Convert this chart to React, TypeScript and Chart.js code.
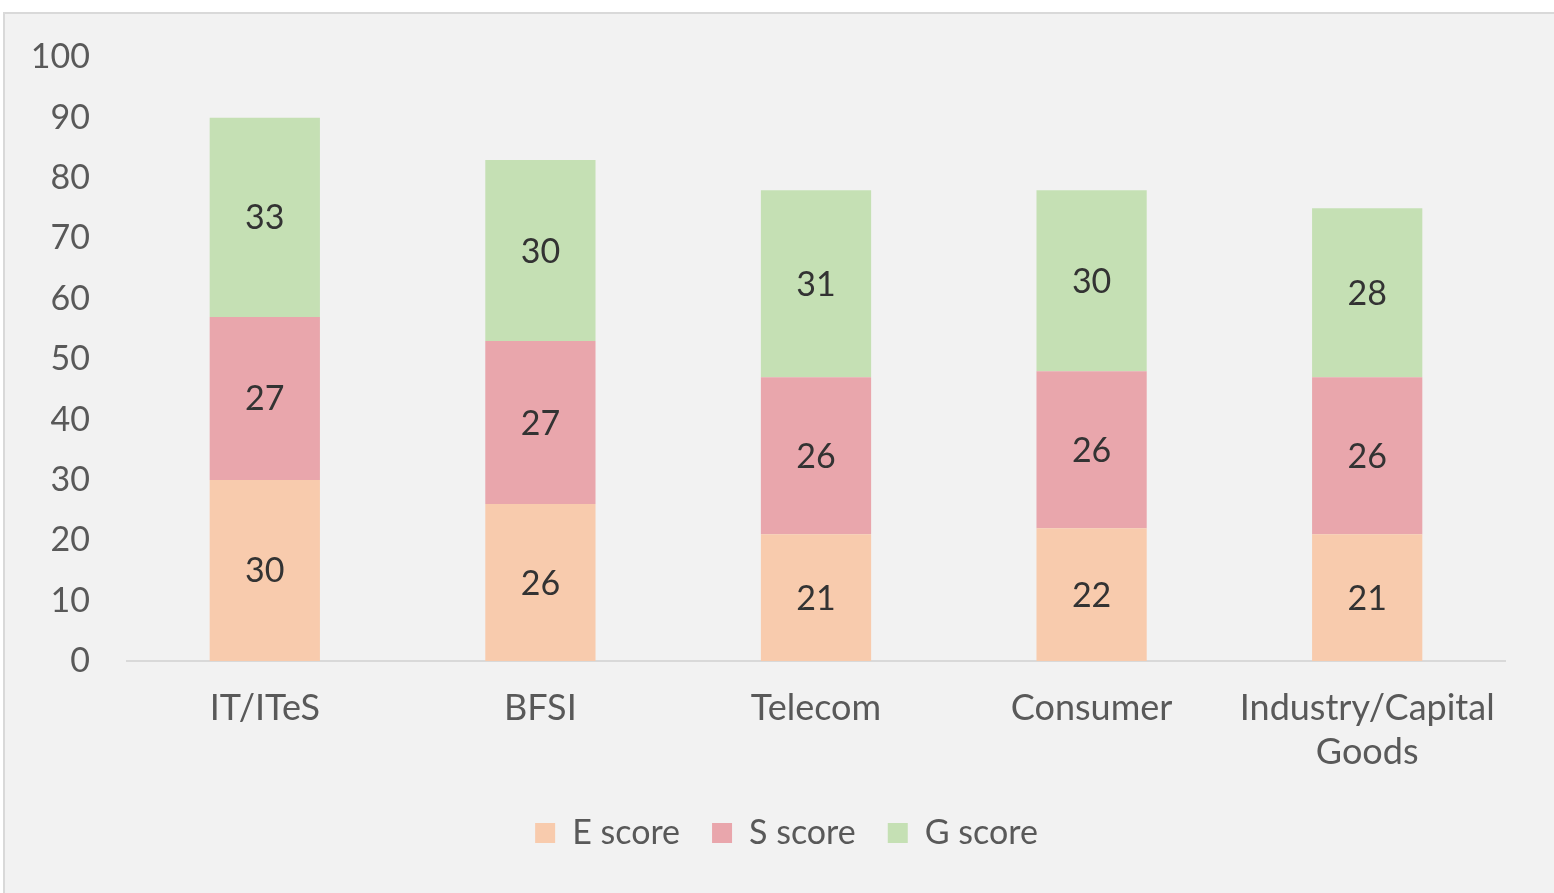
import React, { useEffect, useRef } from 'react';
import { Chart, registerables } from 'chart.js';

Chart.register(...registerables);

const categories = ['IT/ITeS', 'BFSI', 'Telecom', 'Consumer', 'Industry/Capital Goods'];
const eScores = [30, 26, 21, 22, 21];
const sScores = [27, 27, 26, 26, 26];
const gScores = [33, 30, 31, 30, 28];
const seriesNames = ['E score', 'S score', 'G score'];
const yMin = 0;
const yMax = 100;
const yStep = 10;

const FONT = 'Lato';

const dataLabelPlugin = {
  id: 'stackLabels',
  afterDatasetsDraw(chart: any) {
    const ctx = chart.ctx;
    ctx.save();
    ctx.font = `34px ${FONT}`;
    ctx.fillStyle = '#333333';
    ctx.textAlign = 'center';
    ctx.textBaseline = 'middle';
    chart.data.datasets.forEach((ds: any, i: number) => {
      const meta = chart.getDatasetMeta(i);
      meta.data.forEach((el: any, j: number) => {
        const p = el.getProps(['x', 'y', 'base'], true);
        ctx.fillText(String(ds.data[j]), p.x, (p.y + p.base) / 2 + 1);
      });
    });
    ctx.restore();
  },
};

const legendShiftPlugin = {
  id: 'legendShift',
  afterLayout(chart: any) {
    if (chart.legend) {
      chart.legend.left = 68;
    }
  },
};

export default function App() {
  const ref = useRef<HTMLCanvasElement>(null);
  useEffect(() => {
    if (!ref.current) return;
    const chart = new Chart(ref.current, {
      type: 'bar',
      data: {
        labels: categories.map((c) => c.split(' ')),
        datasets: [
          { label: seriesNames[0], data: eScores, backgroundColor: '#f8cbad' },
          { label: seriesNames[1], data: sScores, backgroundColor: '#e9a6ac' },
          { label: seriesNames[2], data: gScores, backgroundColor: '#c5e0b4' },
        ],
      },
      options: {
        responsive: false,
        animation: false,
        devicePixelRatio: 1,
        layout: { padding: { left: 0, right: 49, top: 53, bottom: 33 } },
        datasets: { bar: { categoryPercentage: 1, barPercentage: 0.4 } },
        plugins: {
          tooltip: { enabled: false },
          legend: {
            position: 'bottom',
            labels: {
              boxWidth: 20,
              boxHeight: 20,
              padding: 32,
              color: '#595959',
              font: { family: FONT, size: 34 },
            },
          },
        },
        scales: {
          x: {
            stacked: true,
            grid: { display: false, drawTicks: false },
            border: { display: true, color: '#d9d9d9', width: 2 },
            ticks: {
              color: '#595959',
              padding: 25,
              maxRotation: 0,
              autoSkip: false,
              font: { family: FONT, size: 36, lineHeight: 1.23 },
            },
            afterFit: (s: any) => {
              s.height = 123;
            },
          },
          y: {
            stacked: true,
            min: yMin,
            max: yMax,
            grid: { display: false, drawTicks: false },
            border: { display: false },
            ticks: {
              stepSize: yStep,
              color: '#595959',
              padding: 37,
              font: { family: FONT, size: 34 },
            },
            afterFit: (s: any) => {
              s.width = 127;
            },
          },
        },
      },
      plugins: [dataLabelPlugin, legendShiftPlugin],
    });
    return () => chart.destroy();
  }, []);

  return (
    <div style={{ position: 'fixed', left: 0, top: 0, width: 1554, height: 893, background: '#ffffff' }}>
      <div
        style={{
          position: 'absolute',
          left: 3,
          top: 12,
          width: 1560,
          height: 900,
          background: '#f2f2f2',
          borderLeft: '2px solid #d9d9d9',
          borderTop: '2px solid #d9d9d9',
          boxSizing: 'border-box',
        }}
      />
      <canvas ref={ref} width={1554} height={893} style={{ position: 'absolute', left: 0, top: 0 }} />
    </div>
  );
}
